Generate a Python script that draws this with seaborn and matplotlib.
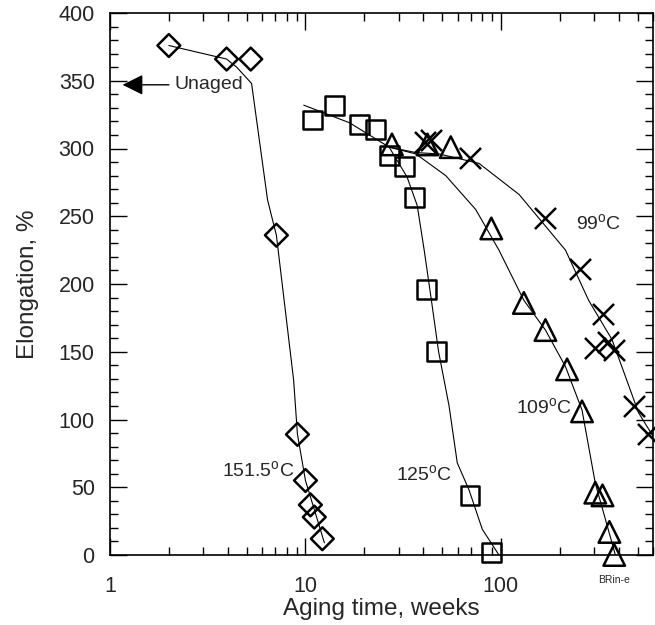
import numpy as np
import pandas as pd
import seaborn as sns
import matplotlib
matplotlib.use("Agg")
import matplotlib.pyplot as plt
from matplotlib import ticker

# Measured elongation (%) vs. aging time (weeks) at four aging temperatures
t151 = [2.0, 3.95, 5.25, 7.1, 9.1, 10.0, 10.6, 11.1, 12.2]
e151 = [376, 366, 366, 236, 89, 55, 37, 28, 12]

t125 = [10.9, 14.1, 18.9, 22.8, 27.0, 32.0, 36.0, 41.8, 46.6, 69.5, 89.6]
e125 = [321, 332, 318, 314, 295, 287, 264, 196, 150, 44, 2]

t109 = [27.7, 42.1, 55.4, 89.3, 131, 169, 218, 260, 304, 331, 359, 380]
e109 = [303, 303, 301, 241, 186, 166, 137, 106, 46, 44, 17, 0]

t99 = [41.0, 44.0, 69.2, 169, 255, 304, 331, 353, 377, 477, 564]
e99 = [305, 306, 293, 249, 211, 153, 178, 157, 151, 110, 89]

# Hand-drawn trend curves through each data set
ct151 = [2.0, 3.95, 4.45, 5.3, 6.4, 7.1, 8.7, 9.1, 10.0, 12.5]
ce151 = [376, 366, 360, 348, 262, 236, 129, 89, 55, 9]

ct125 = [9.8, 16.8, 26.8, 33.1, 37.3, 40.5, 43.8, 48.0, 54.3, 59.8, 68.7, 80.3, 97.7]
ce125 = [332, 319, 301, 279, 258, 225, 191, 150, 110, 68, 48, 19, 0]

ct109 = [26.8, 36.7, 52.2, 74.3, 97.7, 131, 169, 214, 260, 304, 370, 385]
ce109 = [301, 296, 280, 255, 225, 188, 166, 139, 107, 53, 9, 0]

ct99 = [26.8, 36.7, 48.3, 77.3, 124, 214, 281, 370, 433, 506, 604]
ce99 = [301, 297, 296, 289, 266, 225, 188, 159, 132, 105, 87]

unaged_value = 347

x_ticks = [1, 10, 100]
x_tick_labels = ["1", "10", "100"]
y_ticks = [0, 50, 100, 150, 200, 250, 300, 350, 400]

sns.set_theme(style="ticks")
plt.rcParams["font.family"] = ["Liberation Sans", "DejaVu Sans"]
plt.rcParams["mathtext.fontset"] = "custom"
plt.rcParams["mathtext.rm"] = "Liberation Sans"
plt.rcParams["mathtext.it"] = "Liberation Sans"

fig = plt.figure(figsize=(6.55, 6.25), dpi=100)
ax = fig.add_axes([110 / 655, 70 / 625, 543 / 655, 542 / 625])

curves = [(ct151, ce151), (ct125, ce125), (ct109, ce109), (ct99, ce99)]
for cx, cy in curves:
    df = pd.DataFrame({"t": cx, "e": cy})
    sns.lineplot(data=df, x="t", y="e", ax=ax, color="black", lw=0.8,
                 sort=False, estimator=None)

series = [
    (t151, e151, "D", 135),
    (t125, e125, "s", 185),
    (t109, e109, "^", 240),
    (t99, e99, "x", 230),
]
for tx, ey, mk, size in series:
    df = pd.DataFrame({"t": tx, "e": ey})
    if mk == "x":
        sns.scatterplot(data=df, x="t", y="e", ax=ax, marker=mk, s=size,
                        color="black", linewidth=1.8, zorder=3, clip_on=False)
    else:
        sns.scatterplot(data=df, x="t", y="e", ax=ax, marker=mk, s=size,
                        facecolors="none", edgecolor="black", linewidth=1.8,
                        zorder=3, clip_on=False)

ax.set_xscale("log")
ax.set_xlim(1, 600)
ax.set_ylim(0, 400)

ax.xaxis.set_major_locator(ticker.FixedLocator(x_ticks))
ax.xaxis.set_major_formatter(ticker.FixedFormatter(x_tick_labels))
ax.xaxis.set_minor_locator(ticker.LogLocator(base=10, subs=np.arange(2, 10)))
ax.xaxis.set_minor_formatter(ticker.NullFormatter())
ax.yaxis.set_major_locator(ticker.FixedLocator(y_ticks))
ax.yaxis.set_minor_locator(ticker.MultipleLocator(10))

ax.tick_params(which="both", direction="in", top=True, right=True,
               color="black", width=1.0)
ax.tick_params(which="major", length=12.5, labelsize=15.5)
ax.tick_params(which="minor", length=6)
ax.tick_params(axis="x", which="major", pad=15)
ax.tick_params(axis="y", which="major", pad=11)
for s in ax.spines.values():
    s.set_linewidth(1.2)
    s.set_color("black")

ax.set_xlabel("Aging time, weeks", fontsize=17.5, labelpad=1)
ax.set_ylabel("Elongation, %", fontsize=17.5, labelpad=14)

ax.text(241, 245, r"99$^{\rm o}$C", fontsize=14, ha="left", va="center")
ax.text(120, 109, r"109$^{\rm o}$C", fontsize=14, ha="left", va="center")
ax.text(56, 60, r"125$^{\rm o}$C", fontsize=14, ha="right", va="center")
ax.text(3.76, 63, r"151.5$^{\rm o}$C", fontsize=14, ha="left", va="center")

ax.annotate("Unaged", xy=(1.16, unaged_value), xytext=(2.15, unaged_value),
            fontsize=14, ha="left", va="center",
            arrowprops=dict(arrowstyle="-|>,head_length=0.9,head_width=0.45",
                            color="black", lw=1.0, shrinkA=2, shrinkB=0))

fig.text(630 / 655, 1 - 580 / 625, "BRin-e", fontsize=7.5, ha="right",
         va="center")

fig.savefig("out.png", dpi=100)
